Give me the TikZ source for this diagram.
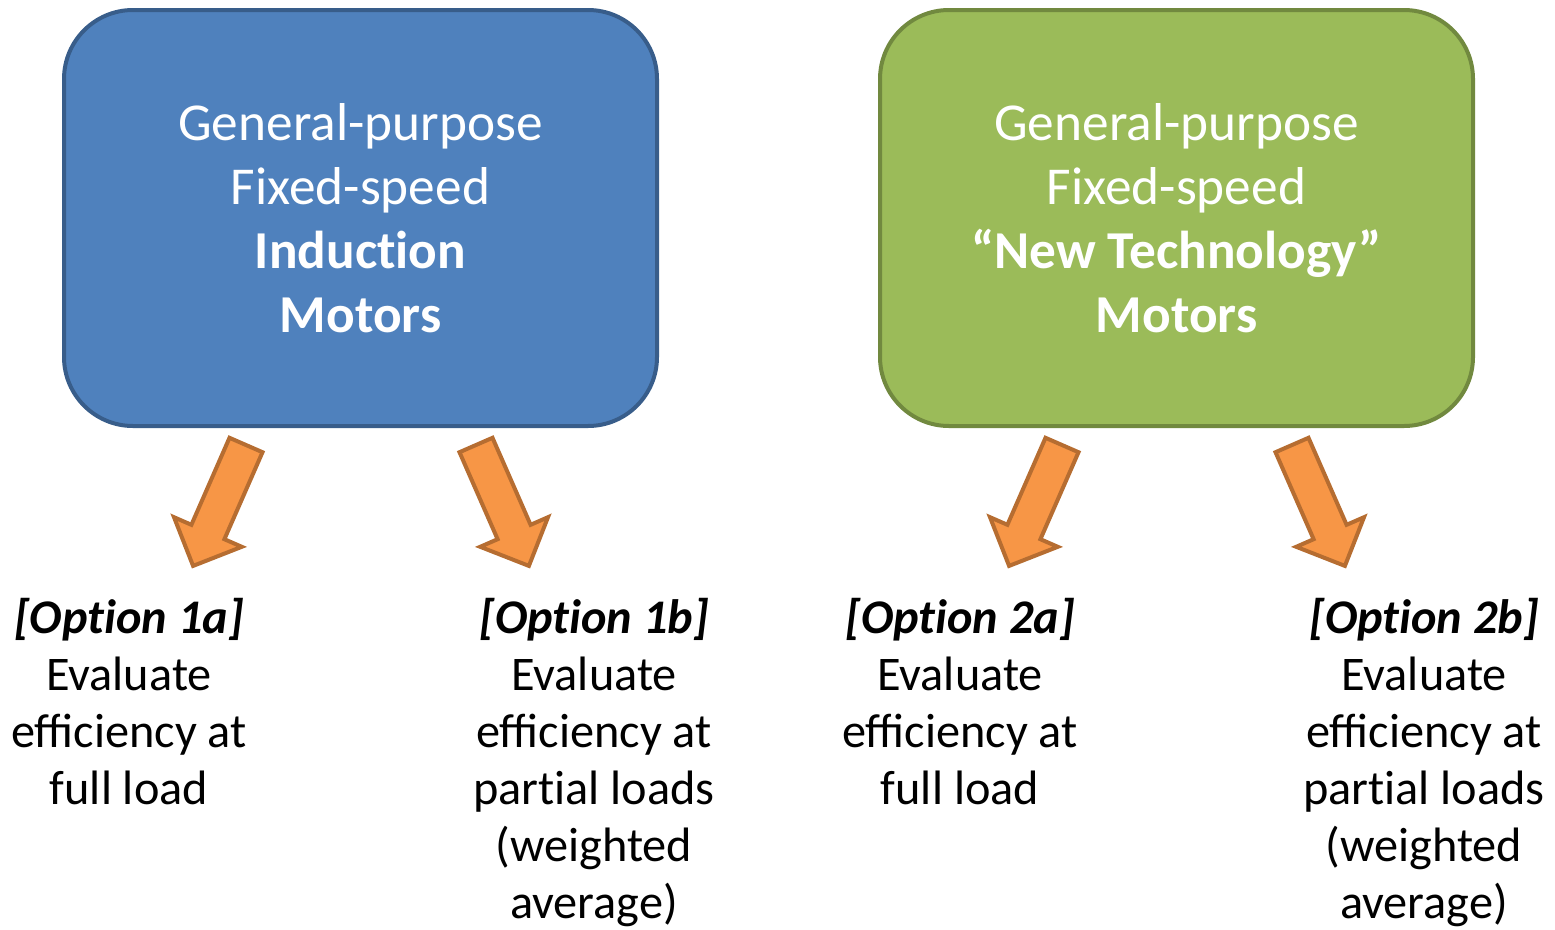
\documentclass[tikz,border=0pt]{standalone}
\usepackage{fontspec}
\setmainfont{Carlito}
\definecolor{bluefill}{HTML}{4F81BD}
\definecolor{blueline}{HTML}{385D8A}
\definecolor{greenfill}{HTML}{9BBB59}
\definecolor{greenline}{HTML}{71893F}
\definecolor{orangefill}{HTML}{F79646}
\definecolor{orangeline}{HTML}{B66D31}
\newcommand{\blockarrowpath}{(-131.5,437.8) -- (-98.5,452.2) -- (-136.6,539.2) -- (-119.2,546.8) -- (-167.9,565.9) -- (-187,517.2) -- (-169.6,524.8) -- cycle}
\newcommand{\nti}{t\kern0pt i}
\begin{document}
\begin{tikzpicture}[x=1pt,y=-1pt,
  bigbox/.style={rectangle, rounded corners=69pt, line width=4pt, minimum width=593pt, minimum height=416pt, inner sep=0pt},
  boxtext/.style={text=white, align=center, anchor=base, inner sep=0pt, font=\fontsize{53.3}{64}\selectfont},
  optiontext/.style={text=black, align=center, anchor=base, inner sep=0pt, font=\fontsize{48.3}{57}\selectfont},
  arrowstyle/.style={fill=orangefill, draw=orangeline, line width=4pt, line join=miter}]
\useasboundingbox (0,0) rectangle (1555,929);
\node[bigbox, fill=bluefill, draw=blueline] (b1) at (360.5,218) {};
\node[bigbox, fill=greenfill, draw=greenline] (b2) at (1176.5,218) {};
\node[boxtext] (t1) at (360.5,332) {General-purpose\\Fixed-speed\\\textbf{Induc\nti on}\\\textbf{Motors}};
\node[boxtext] (t2) at (1176.5,332) {General-purpose\\Fixed-speed\\\textbf{“New Technology”}\\\textbf{Motors}};
\begin{scope}[shift={(361,0)}]
  \draw[arrowstyle] \blockarrowpath;
\end{scope}
\begin{scope}[shift={(361,0)},xscale=-1]
  \draw[arrowstyle] \blockarrowpath;
\end{scope}
\begin{scope}[shift={(1177,0)}]
  \draw[arrowstyle] \blockarrowpath;
\end{scope}
\begin{scope}[shift={(1177,0)},xscale=-1]
  \draw[arrowstyle] \blockarrowpath;
\end{scope}
\node[optiontext] (o1a) at (129,804) {\textbf{\textit{[Op\nti on 1a]}}\\Evaluate\\efficiency at\\full load};
\node[optiontext] (o1b) at (594,918) {\textbf{\textit{[Op\nti on 1b]}}\\Evaluate\\efficiency at\\par\nti al loads\\(weighted\\average)};
\node[optiontext] (o2a) at (960,804) {\textbf{\textit{[Op\nti on 2a]}}\\Evaluate\\efficiency at\\full load};
\node[optiontext] (o2b) at (1424,918) {\textbf{\textit{[Op\nti on 2b]}}\\Evaluate\\efficiency at\\par\nti al loads\\(weighted\\average)};
\end{tikzpicture}
\end{document}
